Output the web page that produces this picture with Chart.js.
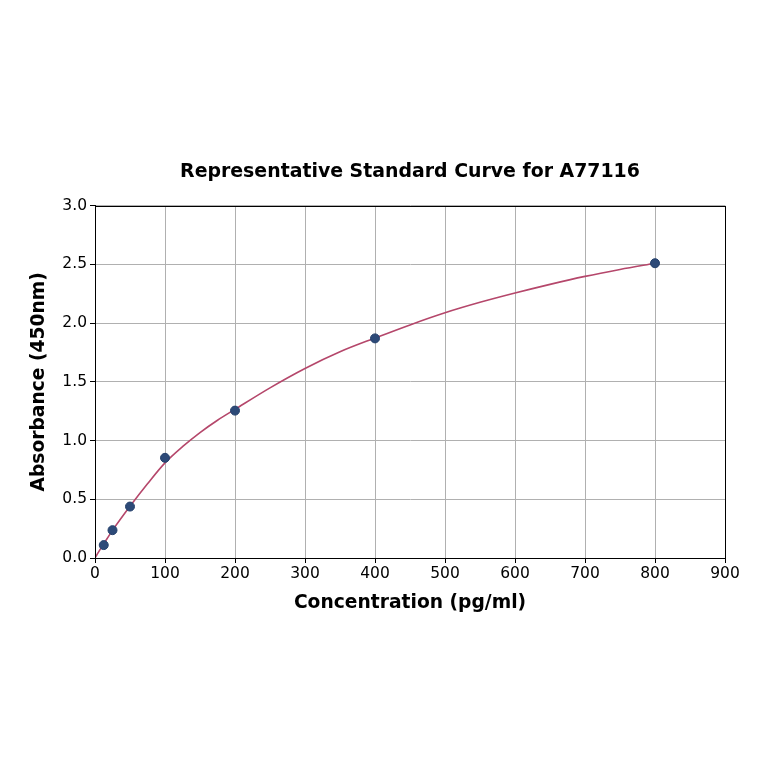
<!DOCTYPE html>
<html>
<head>
<meta charset="utf-8">
<script src="https://cdn.jsdelivr.net/npm/chart.js@4.4.1/dist/chart.umd.min.js"></script>
<style>
html,body{margin:0;padding:0;background:#ffffff;}
#wrap{width:764px;height:764px;}
</style>
</head>
<body>
<div id="wrap"><canvas id="c" width="764" height="764"></canvas></div>
<script>
// Standard points
const stdConc = [12.5, 25, 50, 100, 200, 400, 800];
const stdAbs = [0.11, 0.237, 0.438, 0.853, 1.255, 1.87, 2.51];
// Fitted curve
const curveConc = [0, 5, 12.5, 25, 50, 75, 100, 125, 150, 175, 200, 250, 300, 350, 400, 450, 500, 550, 600, 650, 700, 750, 800];
const curveAbs = [0.0, 0.05, 0.12, 0.235, 0.44, 0.632, 0.81, 0.948, 1.068, 1.173, 1.266, 1.449, 1.614, 1.756, 1.873, 1.985, 2.088, 2.177, 2.256, 2.33, 2.398, 2.457, 2.51];
// Axis ticks
const xTicks = [0, 100, 200, 300, 400, 500, 600, 700, 800, 900];
const yTicks = [0.0, 0.5, 1.0, 1.5, 2.0, 2.5, 3.0];
const titleText = 'Representative Standard Curve for A77116';
const xLabel = 'Concentration (pg/ml)';
const yLabel = 'Absorbance (450nm)';

const FONT = "'DejaVu Sans', sans-serif";

const frame = {
  id: 'frame',
  afterDatasetsDraw(chart) {
    const {ctx, chartArea: a} = chart;
    ctx.save();
    ctx.strokeStyle = '#000000';
    ctx.lineWidth = 1;
    ctx.strokeRect(Math.round(a.left) + 0.5, Math.round(a.top) + 0.5, Math.round(a.right - a.left), Math.round(a.bottom - a.top));
    ctx.restore();
  }
};

new Chart(document.getElementById('c'), {
  type: 'scatter',
  data: {
    datasets: [
      {
        label: 'Standards',
        data: stdConc.map((x, i) => ({x: x, y: stdAbs[i]})),
        backgroundColor: '#2d4a78',
        borderColor: '#24406b',
        borderWidth: 1,
        pointRadius: 4.5,
        showLine: false,
        order: 0
      },
      {
        label: 'Fit',
        data: curveConc.map((x, i) => ({x: x, y: curveAbs[i]})),
        showLine: true,
        borderColor: '#b5476b',
        borderWidth: 1.6,
        pointRadius: 0,
        fill: false,
        cubicInterpolationMode: 'monotone',
        order: 1
      }
    ]
  },
  options: {
    responsive: false,
    animation: false,
    devicePixelRatio: 1,
    layout: {padding: {left: 0, right: 39, top: 0, bottom: 146}},
    plugins: {
      legend: {display: false},
      tooltip: {enabled: false},
      title: {
        display: true,
        fullSize: false,
        text: titleText,
        color: '#000000',
        font: {family: FONT, size: 18.9, weight: 'bold', lineHeight: 1.2},
        padding: {top: 161, bottom: 22}
      }
    },
    scales: {
      x: {
        type: 'linear',
        min: 0, max: 900,
        afterBuildTicks(scale) { scale.ticks = xTicks.map(v => ({value: v})); },
        afterFit(scale) { scale.height = 60; },
        ticks: {
          color: '#000000',
          font: {family: FONT, size: 15.5},
          padding: 2,
          maxRotation: 0,
          callback: (v) => String(v)
        },
        grid: {color: '#b0b0b0', lineWidth: 1, tickColor: '#000000', tickLength: 5, drawTicks: true},
        border: {display: true, color: '#000000', width: 1},
        title: {
          display: true,
          text: xLabel,
          color: '#000000',
          font: {family: FONT, size: 18.7, weight: 'bold', lineHeight: 1.2},
          padding: {top: 0, bottom: 4}
        }
      },
      y: {
        type: 'linear',
        min: 0, max: 3,
        afterBuildTicks(scale) { scale.ticks = yTicks.map(v => ({value: v})); },
        afterFit(scale) { scale.width = 95; },
        ticks: {
          color: '#000000',
          font: {family: FONT, size: 15.5},
          padding: 3,
          callback: (v) => Number(v).toFixed(1)
        },
        grid: {color: '#b0b0b0', lineWidth: 1, tickColor: '#000000', tickLength: 5, drawTicks: true},
        border: {display: true, color: '#000000', width: 1},
        title: {
          display: true,
          text: yLabel,
          color: '#000000',
          font: {family: FONT, size: 18.7, weight: 'bold', lineHeight: 1.2},
          padding: {top: 28, bottom: 0}
        }
      }
    }
  },
  plugins: [frame]
});
</script>
</body>
</html>
